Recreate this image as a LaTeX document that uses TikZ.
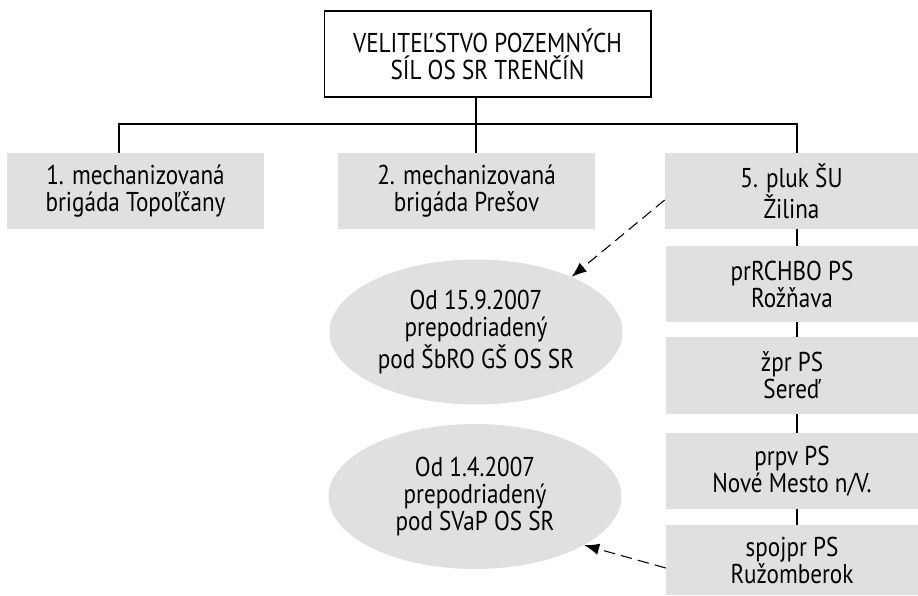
\documentclass[tikz,border=0pt]{standalone}
\usepackage{fontspec}
\setmainfont[FakeStretch = 0.85]{PT Sans}
\usetikzlibrary{arrows.meta, shapes.geometric}
\definecolor{unitgray}{RGB}{224,224,224}

\begin{document}
\begin{tikzpicture}[x = 0.02cm, y = -0.02cm,
	font = \fontsize{15.5}{15.4}\selectfont,
	command/.style = {draw = black, line width = 0.6pt, align = center,
					  minimum width = 6.54cm, minimum height = 1.72cm},
	unit/.style = {fill = unitgray, align = center, inner sep = 0pt,
				   minimum width = 5.04cm, minimum height = 1.52cm},
	note/.style = {fill = unitgray, shape = ellipse, align = center,
				   inner sep = 0pt, minimum width = 5.86cm, minimum height = 2.9cm},
	link/.style = {line width = 0.6pt},
	moved/.style = {line width = 0.6pt, dash pattern = on 6.5pt off 3.5pt,
					-{Latex[length = 8.5pt, width = 6.5pt]}}]

	\useasboundingbox (0,0) rectangle (918,595);

	\draw (487.5,54) node[command] (hq) {VELITEĽSTVO POZEMNÝCH\\SÍL OS SR TRENČÍN};

	\draw (135.5,191) node[unit,
					 minimum width = 5.14cm] (brig1) {1. mechanizovaná\\brigáda Topoľčany};
	\draw (466.5,191) node[unit,
					 minimum width = 5.14cm] (brig2) {2. mechanizovaná\\brigáda Prešov};
	\draw (791.5,191) node[unit,
					 minimum width = 5.06cm] (reg5) {5. pluk ŠU\\Žilina};

	\draw (792,284) node[unit] (chem) {prRCHBO PS\\Rožňava};
	\draw (792,375.5) node[unit,
					 minimum height = 1.54cm] (eng) {žpr PS\\Sereď};
	\draw (792,471) node[unit] (pont) {prpv PS\\Nové Mesto n/V.};
	\draw (792,560) node[unit,
					 minimum height = 1.4cm] (sig) {spojpr PS\\Ružomberok};

	\draw (476,332) node[note] (from15) {Od 15.9.2007\\prepodriadený\\pod ŠbRO GŠ OS SR};
	\draw (475,496.5) node[note] (from01) {Od 1.4.2007\\prepodriadený\\pod SVaP OS SR};

	% bus under the command box
	\coordinate (busL) at (119,124);
	\coordinate (busM) at (476,124);
	\coordinate (busR) at (797,124);

	\draw[link] (busL |- brig1.north) -- (busL) -- (busR) -- (busR |- reg5.north);
	\draw[link] (busM |- hq.south) -- (busM |- brig2.north);
	\foreach \upper/\lower in {reg5/chem, chem/eng, eng/pont, pont/sig}
		\draw[link] (busR |- \upper.south) -- (busR |- \lower.north);

	\draw[moved] ([yshift = -0.18cm]reg5.west) -- (from15.30);
	\draw[moved] ([yshift = -0.16cm]sig.west) -- (from01.-24);
\end{tikzpicture}
\end{document}
